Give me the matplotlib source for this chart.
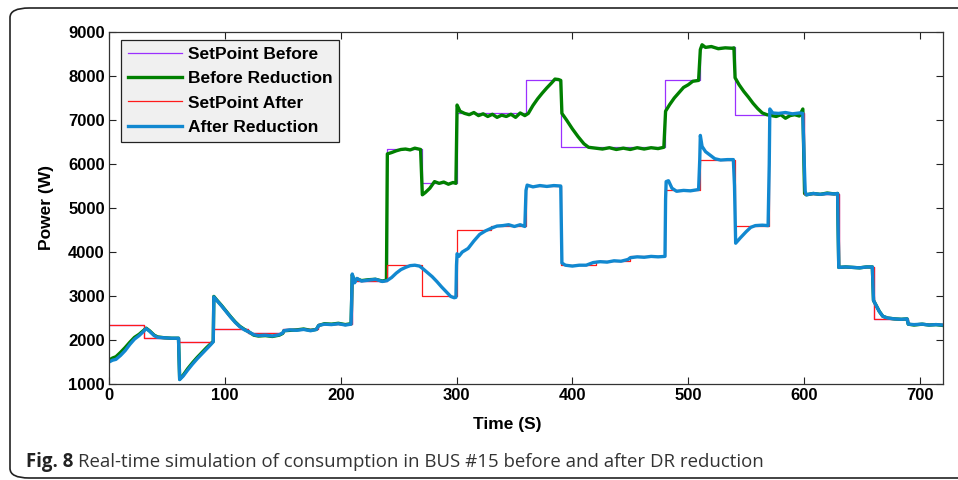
import numpy as np
import matplotlib
matplotlib.use('Agg')
import matplotlib.pyplot as plt
from matplotlib.patches import FancyBboxPatch

# setpoint schedule (30 s steps)
t_sp = [0, 30, 60, 90, 120, 150, 180, 210, 240, 270, 300, 330, 360, 390, 420, 450,
        480, 510, 540, 570, 600, 630, 660, 690, 720]
sp_before = [2330, 2040, 1950, 2240, 2150, 2240, 2360, 3350, 6340, 5560, 7150, 7150,
             7900, 6390, 6390, 6390, 7900, 8650, 7120, 7150, 5320, 3660, 2480, 2360, 2360]
sp_after = [2330, 2040, 1950, 2240, 2150, 2240, 2360, 3350, 3700, 3000, 4500, 4600,
            5500, 3700, 3800, 3900, 5400, 6100, 4600, 7150, 5320, 3660, 2480, 2360, 2360]

t_before = [0, 3, 6, 10, 14, 18, 22, 26, 30, 32, 35, 39, 42, 48, 54, 60, 61, 64, 68, 72,
            76, 80, 84, 88, 90, 90.5, 93, 97, 101, 105, 109, 113, 117, 121, 125, 129, 135,
            141, 147, 150, 151, 156, 162, 168, 174, 179, 181, 186, 192, 198, 204, 209, 210,
            212, 214, 218, 224, 230, 236, 239.5,
            240.3, 244, 248, 252, 256, 260, 264, 269, 270.5, 273, 277, 281, 285, 289, 293,
            297, 299.5, 300.5, 303, 307, 311, 315, 319, 323, 327, 331, 335, 339, 343, 347,
            351, 355, 359, 362, 366, 370, 374, 378, 382, 385, 388, 390, 391, 395, 400, 405,
            410, 414, 420, 426, 432, 438, 444, 450, 456, 462, 468, 474, 479, 480.5, 484,
            488, 492, 496, 500, 504, 509, 510.5, 512, 515, 520, 526, 532, 538, 539.5, 540.5,
            544, 548, 552, 556, 560, 564, 568, 572, 576, 580, 584, 588, 592, 596, 599,
            600.5, 602, 608, 614, 620, 626, 629, 630, 636, 642, 648, 654, 659, 660, 662,
            665, 668, 672, 678, 684, 689, 690, 695, 702, 708, 714, 720]
p_before = [1540, 1590, 1620, 1720, 1830, 1950, 2060, 2130, 2220, 2270, 2210, 2110, 2070,
            2050, 2040, 2040, 1110, 1200, 1350, 1480, 1600, 1710, 1820, 1920, 1970, 2990,
            2910, 2790, 2660, 2530, 2410, 2310, 2240, 2180, 2110, 2090, 2100, 2080, 2110,
            2150, 2210, 2220, 2230, 2250, 2220, 2240, 2330, 2370, 2360, 2380, 2350, 2370,
            3480, 3320, 3390, 3350, 3370, 3380, 3340, 3360,
            6230, 6260, 6300, 6330, 6340, 6320, 6360, 6330, 5300, 5350, 5450, 5600, 5560,
            5590, 5540, 5580, 5560, 7340, 7200, 7150, 7120, 7170, 7100, 7140, 7080, 7130,
            7060, 7110, 7080, 7130, 7060, 7160, 7100, 7150, 7330, 7480, 7610, 7730, 7840,
            7930, 7920, 7900, 7150, 7000, 6800, 6620, 6460, 6380, 6360, 6340, 6370, 6330,
            6360, 6330, 6370, 6340, 6370, 6350, 6380, 7200, 7350, 7500, 7620, 7740, 7800,
            7880, 7900, 8600, 8710, 8650, 8670, 8620, 8640, 8630, 8640, 7960, 7800, 7650,
            7520, 7380, 7260, 7160, 7120, 7100, 7080, 7120, 7040, 7100, 7120, 7090, 7250,
            5330, 5300, 5330, 5310, 5340, 5320, 5330, 3650, 3660, 3650, 3640, 3660, 3660,
            2900, 2800, 2650, 2540, 2500, 2480, 2470, 2480, 2360, 2340, 2360, 2340, 2350,
            2330]

t_after = [0, 3, 6, 10, 14, 18, 22, 26, 30, 32, 35, 39, 42, 48, 54, 60, 61, 64, 68, 72,
           76, 80, 84, 88, 90, 90.5, 93, 97, 101, 105, 109, 113, 117, 121, 125, 129, 135,
           141, 147, 150, 151, 156, 162, 168, 174, 179, 181, 186, 192, 198, 204, 209, 210,
           212, 214, 218, 224, 230, 236, 240, 244, 248, 252, 256, 260, 264, 268, 271, 275,
           279, 283, 287, 291, 295, 298, 299.5, 300, 300.5, 302, 305, 310, 315, 320, 325,
           330, 335, 340, 345, 350, 355, 359, 360, 361, 366, 372, 378, 384, 390, 391, 394,
           400, 406, 412, 418, 424, 430, 436, 442, 448, 450, 456, 462, 468, 474, 480,
           480.5, 481, 483, 486, 490, 496, 502, 509, 510, 510.5, 512, 515, 519, 523, 528,
           534, 539, 540, 541, 545, 550, 554, 558, 564, 569, 570, 570.5, 573, 578, 584,
           590, 596, 599, 600, 601, 602, 608, 614, 620, 626, 629, 630, 636, 642, 648, 654,
           659, 660, 662, 665, 668, 672, 678, 684, 689, 690, 695, 702, 708, 714, 720]
p_after = [1500, 1540, 1560, 1650, 1760, 1900, 2020, 2100, 2200, 2260, 2200, 2100, 2060,
           2050, 2040, 2040, 1100, 1180, 1320, 1450, 1570, 1680, 1790, 1900, 1960, 2980,
           2900, 2780, 2650, 2520, 2400, 2300, 2230, 2180, 2120, 2100, 2110, 2090, 2120,
           2160, 2210, 2230, 2220, 2240, 2210, 2240, 2330, 2360, 2350, 2370, 2340, 2360,
           3500, 3300, 3400, 3340, 3360, 3380, 3330, 3350, 3420, 3520, 3600, 3650, 3690,
           3700, 3680, 3620, 3530, 3440, 3330, 3210, 3100, 2990, 2960, 2970, 3700, 3960,
           3900, 4000, 4080, 4250, 4400, 4480, 4540, 4590, 4600, 4620, 4580, 4620, 4580,
           5400, 5520, 5480, 5510, 5490, 5510, 5500, 3750, 3700, 3680, 3700, 3700, 3760,
           3780, 3770, 3800, 3790, 3830, 3870, 3890, 3880, 3900, 3890, 3900, 5200, 5600,
           5620, 5450, 5380, 5400, 5390, 5420, 6100, 6650, 6400, 6280, 6200, 6120, 6090,
           6100, 6100, 5500, 4200, 4320, 4460, 4560, 4600, 4610, 4600, 6000, 7250, 7160,
           7150, 7170, 7140, 7160, 7150, 6200, 5380, 5300, 5330, 5310, 5330, 5320, 5330,
           3650, 3660, 3650, 3640, 3660, 3660, 2900, 2800, 2650, 2540, 2500, 2480, 2470,
           2480, 2360, 2350, 2360, 2340, 2350, 2340]

x_ticks = [0, 100, 200, 300, 400, 500, 600, 700]
y_ticks = [1000, 2000, 3000, 4000, 5000, 6000, 7000, 8000, 9000]

plt.rcParams['font.family'] = ['Liberation Sans', 'DejaVu Sans']

fig = plt.figure(figsize=(9.58, 4.8), dpi=100)
ax = fig.add_axes([109 / 958, 1 - 384 / 480, (943 - 109) / 958, (384 - 32) / 480])

ax.step(t_sp, sp_before, where='post', color='#9b30ff', linewidth=0.9, label='SetPoint Before')
ax.plot(t_before, p_before, color='#008000', linewidth=2.4, label='Before Reduction')
ax.step(t_sp, sp_after, where='post', color='#ff1a1a', linewidth=0.9, label='SetPoint After')
ax.plot(t_after, p_after, color='#1188d0', linewidth=2.4, label='After Reduction')

ax.set_xlim(0, 720)
ax.set_ylim(1000, 9000)
ax.set_xticks(x_ticks)
ax.set_yticks(y_ticks)
ax.tick_params(direction='in', top=True, right=True, length=5, width=0.8,
               colors='#222222', labelsize=12, pad=3)
for lbl in ax.get_xticklabels() + ax.get_yticklabels():
    lbl.set_fontweight('bold')
    lbl.set_color('black')
for s in ax.spines.values():
    s.set_color('#333333')
    s.set_linewidth(0.9)

ax.set_xlabel('Time (S)', fontsize=12.5, fontweight='bold', labelpad=11)
ax.xaxis.set_label_coords(0.478, -0.094)
ax.set_ylabel('Power (W)', fontsize=12.5, fontweight='bold', labelpad=10)

leg = ax.legend(loc='upper left', bbox_to_anchor=(0.0144, 0.977), borderaxespad=0,
                fancybox=False, edgecolor='#222222', facecolor='#f0f0f0', framealpha=1,
                handlelength=3.1, handletextpad=0.35, labelspacing=0.52, borderpad=0.4,
                prop={'weight': 'bold', 'size': 12.5})
leg.get_frame().set_linewidth(0.9)

# outer rounded frame and caption
frame = FancyBboxPatch((10 / 958, 2 / 480), 1.2, 470 / 480,
                       boxstyle='round,pad=0,rounding_size=0.02',
                       transform=fig.transFigure, fill=False, edgecolor='#222222',
                       linewidth=1.2, clip_on=False)
fig.patches.append(frame)

cap_font = ['Open Sans', 'DejaVu Sans']
t1 = fig.text(26 / 958, 1 - 467 / 480, 'Fig. 8', fontsize=13.4, fontweight='bold',
              family=cap_font, color='#222222', va='baseline')
fig.canvas.draw()
bb = t1.get_window_extent()
fig.text(bb.x1 / 958 + 5 / 958, 1 - 467 / 480,
         'Real-time simulation of consumption in BUS #15 before and after DR reduction',
         fontsize=13.4, family=cap_font, color='#333333', va='baseline')

fig.savefig('out.png', dpi=100)
